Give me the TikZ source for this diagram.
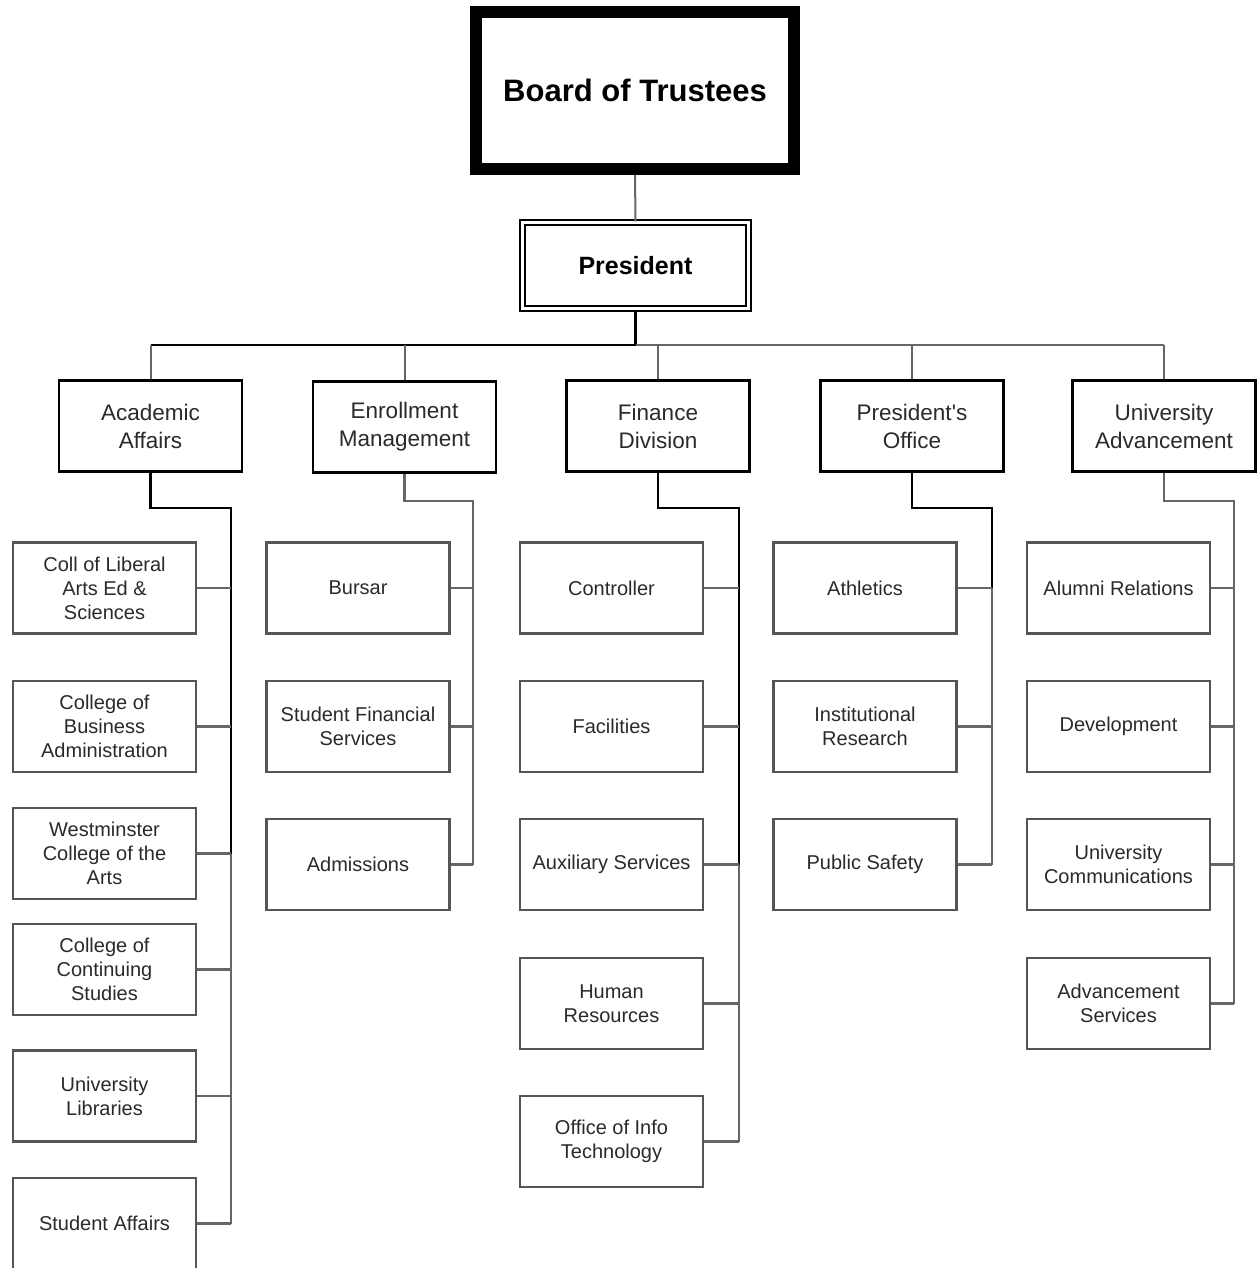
\documentclass[tikz,border=0pt]{standalone}
\usepackage{fontspec}
\setmainfont{Liberation Sans}
\newfontfamily\lsans{Liberation Sans}
\definecolor{txt}{HTML}{2A2A2A}
\definecolor{boxgray}{HTML}{555555}
\definecolor{linegray}{HTML}{666666}
\begin{document}
\begin{tikzpicture}[x=1pt,y=-1pt,
  board/.style={draw=black,line width=12pt,minimum width=318pt,minimum height=157pt,inner sep=0pt,
    font=\lsans\fontsize{31}{36}\selectfont\bfseries,text=black},
  pres/.style={draw=black,double=white,line width=2pt,double distance=3pt,minimum width=226pt,minimum height=86pt,
    inner sep=0pt,font=\lsans\fontsize{25}{30}\selectfont\bfseries,text=black},
  mgr/.style={draw=black,line width=2.5pt,minimum width=183pt,minimum height=91pt,inner sep=0pt,align=center,
    font=\lsans\fontsize{22.5}{28}\selectfont,text=txt},
  sub/.style={draw=boxgray,line width=2.5pt,minimum width=183pt,minimum height=91pt,inner sep=0pt,align=center,
    font=\lsans\fontsize{20}{24}\selectfont,text=txt},
  blk/.style={draw=black,line width=2.5pt},
  gry/.style={draw=linegray,line width=2.3pt}]
\useasboundingbox (0,0) rectangle (1256,1268);
\fill[white] (0,0) rectangle (1256,1268);

% top
\node[board] (bot) at (635,90.5) {Board of Trustees};
\node[pres] (pr) at (635.5,265.5) {President};

% managers
\node[mgr] (aa) at (150.5,426) {Academic\\Affairs};
\node[mgr] (em) at (404.5,427) {Enrollment\\Management};
\node[mgr] (fd) at (658,426) {Finance\\Division};
\node[mgr] (po) at (912,426) {President's\\Office};
\node[mgr] (ua) at (1164,426) {University\\Advancement};

% column 1
\node[sub] (a1) at (104.5,588) {Coll of Liberal\\Arts Ed \&\\Sciences};
\node[sub] (a2) at (104.5,726.5) {College of\\Business\\Administration};
\node[sub] (a3) at (104.5,853.5) {Westminster\\College of the\\Arts};
\node[sub] (a4) at (104.5,969.5) {College of\\Continuing\\Studies};
\node[sub] (a5) at (104.5,1096) {University\\Libraries};
\node[sub] (a6) at (104.5,1223.5) {Student Affairs};

% column 2
\node[sub] (e1) at (358,588) {Bursar};
\node[sub] (e2) at (358,726.5) {Student Financial\\Services};
\node[sub] (e3) at (358,864.5) {Admissions};

% column 3
\node[sub] (f1) at (611.5,588) {Controller};
\node[sub] (f2) at (611.5,726.5) {Facilities};
\node[sub] (f3) at (611.5,864.5) {Auxiliary Services};
\node[sub] (f4) at (611.5,1003.5) {Human\\Resources};
\node[sub] (f5) at (611.5,1141.5) {Office of Info\\Technology};

% column 4
\node[sub] (p1) at (865,588) {Athletics};
\node[sub] (p2) at (865,726.5) {Institutional\\Research};
\node[sub] (p3) at (865,864.5) {Public Safety};

% column 5
\node[sub] (u1) at (1118.5,588) {Alumni Relations};
\node[sub] (u2) at (1118.5,726.5) {Development};
\node[sub] (u3) at (1118.5,864.5) {University\\Communications};
\node[sub] (u4) at (1118.5,1003.5) {Advancement\\Services};

% coordinates
\coordinate (bus) at (635.5,345);
\coordinate (aaV) at (231,508);
\coordinate (emV) at (473,501);
\coordinate (fdV) at (739,508);
\coordinate (poV) at (992,508);
\coordinate (uaV) at (1234,501);

% top connectors
\draw[gry,line width=2pt] (bot.south) -- (pr.north);
\draw[blk] (pr.south) -- (bus);
\draw[blk,line width=2pt] (aa.north |- bus) -- (bus);
\draw[gry,line width=2pt] (bus) -- (ua.north |- bus);
\foreach \m in {aa,em,fd,po,ua} \draw[gry,line width=2pt] (\m.north |- bus) -- (\m.north);

% academic affairs
\draw[blk] (aa.south) |- (aaV) -- (aaV |- a3.east);
\draw[gry] (aaV |- a3.east) -- (aaV |- a6.east);
\foreach \i in {1,...,6} \draw[gry] (a\i.east) -- (a\i.east -| aaV);

% enrollment
\draw[gry] (em.south) |- (emV) -- (emV |- e3.east);
\foreach \i in {1,2,3} \draw[gry] (e\i.east) -- (e\i.east -| emV);

% finance
\draw[blk] (fd.south) |- (fdV) -- (fdV |- f3.east);
\draw[gry] (fdV |- f3.east) -- (fdV |- f5.east);
\foreach \i in {1,...,5} \draw[gry] (f\i.east) -- (f\i.east -| fdV);

% president's office
\draw[blk] (po.south) |- (poV) -- (poV |- p1.east);
\draw[gry] (poV |- p1.east) -- (poV |- p3.east);
\foreach \i in {1,2,3} \draw[gry] (p\i.east) -- (p\i.east -| poV);

% university advancement
\draw[gry] (ua.south) |- (uaV) -- (uaV |- u4.east);
\foreach \i in {1,...,4} \draw[gry] (u\i.east) -- (u\i.east -| uaV);
\end{tikzpicture}
\end{document}
